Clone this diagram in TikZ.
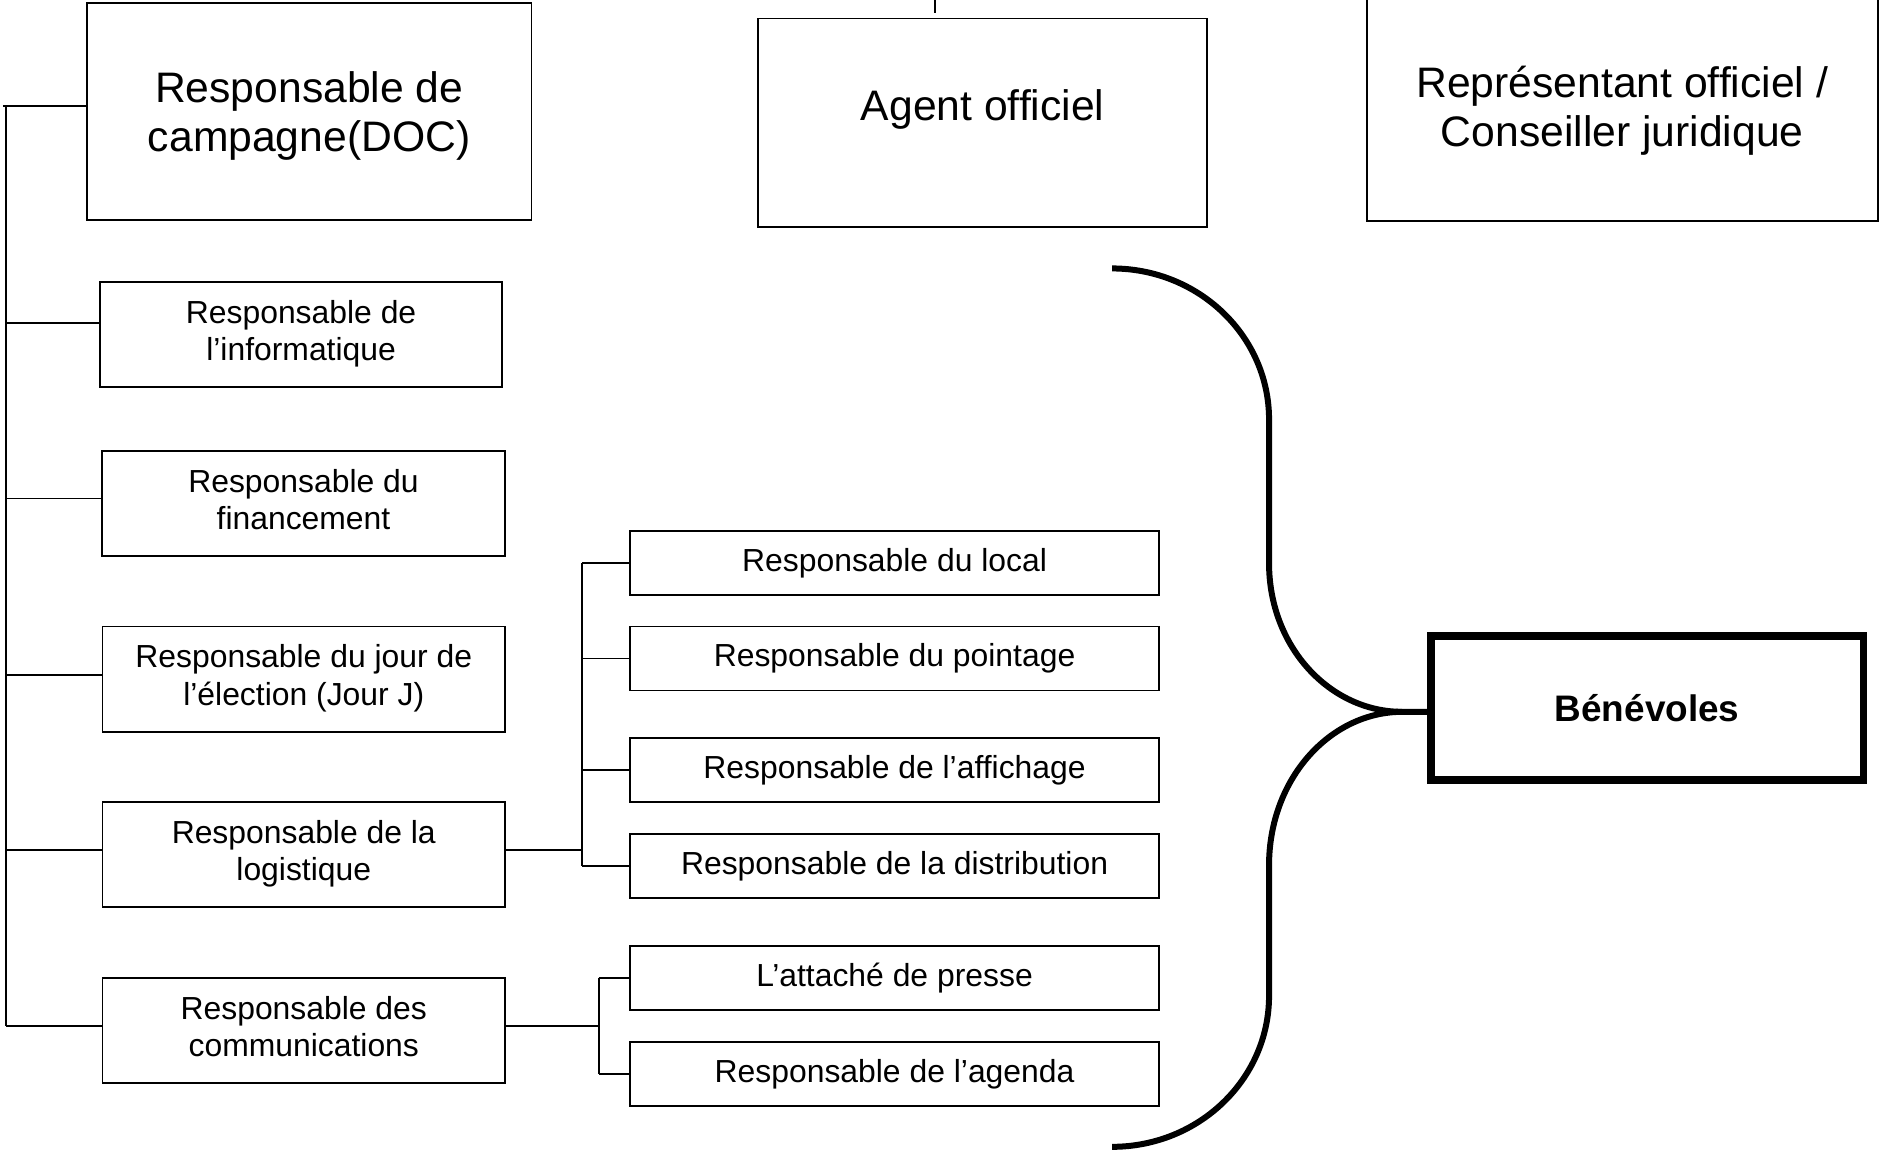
\documentclass[tikz,border=0pt]{standalone}
\usepackage{fontspec}
\setmainfont{Liberation Sans}
\begin{document}
\begin{tikzpicture}[x=0.5pt,y=-0.5pt,
  box/.style={draw,line width=0.8pt,inner sep=0pt,align=center},
  big/.style={font=\fontsize{17.8}{20.5}\selectfont,align=center,inner sep=0pt},
  small/.style={font=\fontsize{13.3}{15.5}\selectfont},
  lbox/.style={box,small,minimum width=168pt,minimum height=43.9pt},
  sbox/.style={box,small,minimum width=220.5pt,minimum height=26.7pt},
  conn/.style={line width=0.8pt},
  bracel/.style={line width=2.5pt}]
\useasboundingbox (0,0) rectangle (1568,960.5);
% top boxes
\node[box,minimum width=185.5pt,minimum height=90.4pt] (doc) at (258,92.9) {};
\node[big] (doctxt) at (258,96.9) {Responsable de\\campagne(DOC)};
\node[box,minimum width=187.45pt,minimum height=86.9pt] (agent) at (820,102.3) {};
\node[big] (agenttxt) at (820,91) {Agent officiel};
\node[box,minimum width=213.25pt,minimum height=96.15pt] (rep) at (1353.75,88.15) {};
\node[big] (reptxt) at (1353.75,92.15) {Représentant officiel /\\Conseiller juridique};
% left column
\node[lbox] (info) at (251.25,279) {\strut Responsable de\\l’informatique\strut};
\node[lbox] (fin) at (253.25,420) {\strut Responsable du\\financement\strut};
\node[lbox] (jour) at (253.5,566.7) {\strut Responsable du jour de\\l’élection (Jour J)\strut};
\node[lbox] (log) at (253.5,713.3) {\strut Responsable de la\\logistique\strut};
\node[lbox] (comm) at (253.5,860) {\strut Responsable des\\communications\strut};
% sub boxes
\node[sbox] (local) at (746.5,469.6) {Responsable du local};
\node[sbox] (point) at (746.5,549.5) {Responsable du pointage};
\node[sbox] (affi) at (746.5,642.9) {Responsable de l’affichage};
\node[sbox] (dist) at (746.5,723) {Responsable de la distribution};
\node[sbox] (presse) at (746.5,816.2) {L’attaché de presse};
\node[sbox] (agenda) at (746.5,896.3) {Responsable de l’agenda};
% benevoles
\node[draw,line width=3.25pt,minimum width=180.5pt,minimum height=60pt,font=\bfseries\fontsize{15.4}{18}\selectfont] (ben) at (1374.5,591) {Bénévoles};
% agent tick
\coordinate (tk1) at (780,0);
\coordinate (tk2) at (780,11);
\draw[conn] (tk1) -- (tk2);
% main bus
\coordinate (bustop) at (2.5,88.3);
\coordinate (busstart) at (5,88.3);
\coordinate (busbot) at (5,856.2);
\draw[conn] (bustop) -- (bustop -| doc.west);
\draw[conn] (busstart) -- (busbot);
\coordinate (b1) at (5,269.4);
\coordinate (b2) at (5,416);
\coordinate (b3) at (5,563);
\coordinate (b4) at (5,709.6);
\draw[conn] (b1) -- (b1 -| info.west);
\draw[conn] (b2) -- (b2 -| fin.west);
\draw[conn] (b3) -- (b3 -| jour.west);
\draw[conn] (b4) -- (b4 -| log.west);
\draw[conn] (busbot) -- (busbot -| comm.west);
% logistics bus
\coordinate (lb) at (486,709.6);
\draw[conn] (log.east |- lb) -- (lb);
\draw[conn] (local.west -| lb) -- (dist.west -| lb);
\draw[conn] (local.west -| lb) -- (local.west);
\draw[conn] (point.west -| lb) -- (point.west);
\draw[conn] (affi.west -| lb) -- (affi.west);
\draw[conn] (dist.west -| lb) -- (dist.west);
% communications bus
\coordinate (cb) at (499.5,856.2);
\draw[conn] (comm.east |- cb) -- (cb);
\draw[conn] (presse.west -| cb) -- (agenda.west -| cb);
\draw[conn] (presse.west -| cb) -- (presse.west);
\draw[conn] (agenda.west -| cb) -- (agenda.west);
% brace
\coordinate (bt) at (928,224);
\coordinate (bb) at (928,957);
\coordinate (tip) at (1170,594);
\draw[bracel] (bt) .. controls (1000.4,224) and (1059,280.4) .. (1059,350) -- (1059,470) .. controls (1059,540) and (1110,594) .. (tip) -- (tip -| ben.west);
\draw[bracel] (tip) .. controls (1110,594) and (1059,650) .. (1059,722) -- (1059,831) .. controls (1059,900.6) and (1000.4,957) .. (bb);
\end{tikzpicture}
\end{document}
